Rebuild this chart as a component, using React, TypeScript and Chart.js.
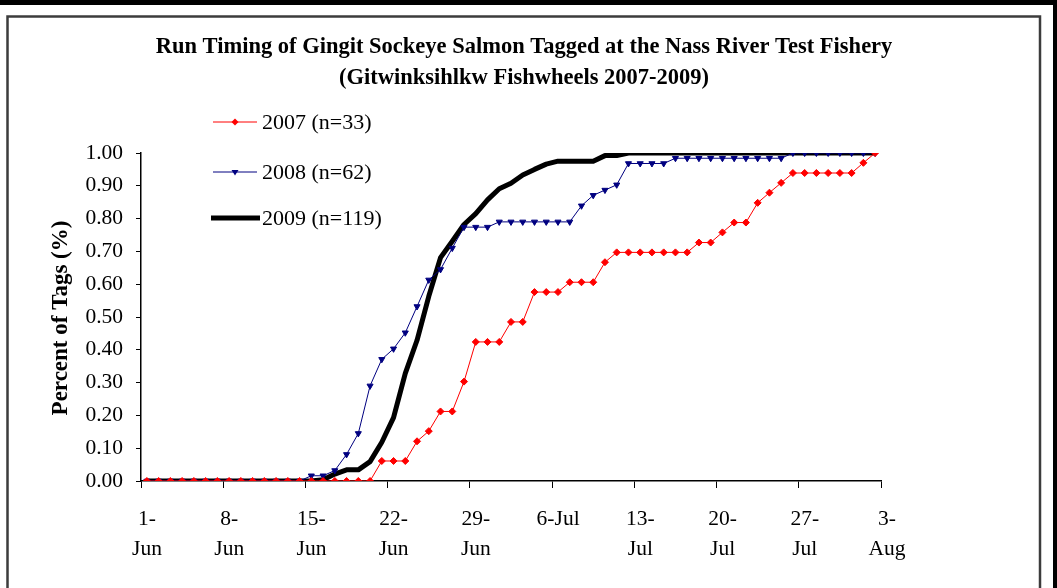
import React, { useEffect, useRef } from 'react';
import { Chart, registerables } from 'chart.js';

Chart.register(...registerables);

const titleLines = [
  'Run Timing of Gingit Sockeye Salmon Tagged at the Nass River Test Fishery',
  '(Gitwinksihlkw Fishwheels 2007-2009)',
];
const yAxisTitle = 'Percent of Tags (%)';
const tickLabels: string[][] = [
  ['1-', 'Jun'], ['8-', 'Jun'], ['15-', 'Jun'], ['22-', 'Jun'], ['29-', 'Jun'],
  ['6-Jul'], ['13-', 'Jul'], ['20-', 'Jul'], ['27-', 'Jul'], ['3-', 'Aug'],
];
const yTickValues = [0, 0.1, 0.2, 0.3, 0.4, 0.5, 0.6, 0.7, 0.8, 0.9, 1.0];
const seriesNames = ['2007 (n=33)', '2008 (n=62)', '2009 (n=119)'];

// daily cumulative proportions, 1-Jun .. 2-Aug
const y2007 = [
  0, 0, 0, 0, 0, 0, 0, 0, 0, 0,
  0, 0, 0, 0, 0, 0, 0, 0, 0, 0,
  0.061, 0.061, 0.061, 0.121, 0.152, 0.212, 0.212, 0.303, 0.424, 0.424,
  0.424, 0.485, 0.485, 0.576, 0.576, 0.576, 0.606, 0.606, 0.606, 0.667,
  0.697, 0.697, 0.697, 0.697, 0.697, 0.697, 0.697, 0.727, 0.727, 0.758,
  0.788, 0.788, 0.848, 0.879, 0.909, 0.939, 0.939, 0.939, 0.939, 0.939,
  0.939, 0.970, 1.0,
];
const y2008 = [
  0, 0, 0, 0, 0, 0, 0, 0, 0, 0,
  0, 0, 0, 0, 0.016, 0.016, 0.032, 0.081, 0.145, 0.290,
  0.371, 0.403, 0.452, 0.532, 0.613, 0.645, 0.710, 0.774, 0.774, 0.774,
  0.790, 0.790, 0.790, 0.790, 0.790, 0.790, 0.790, 0.839, 0.871, 0.887,
  0.903, 0.968, 0.968, 0.968, 0.968, 0.984, 0.984, 0.984, 0.984, 0.984,
  0.984, 0.984, 0.984, 0.984, 0.984, 1.0, 1.0, 1.0, 1.0, 1.0,
  1.0, 1.0, 1.0,
];
const y2009 = [
  0, 0, 0, 0, 0, 0, 0, 0, 0, 0,
  0, 0, 0, 0, 0, 0.004, 0.021, 0.034, 0.034, 0.059,
  0.118, 0.193, 0.328, 0.429, 0.563, 0.681, 0.731, 0.782, 0.815, 0.857,
  0.891, 0.908, 0.933, 0.950, 0.966, 0.975, 0.975, 0.975, 0.975, 0.992,
  0.992, 1.0, 1.0, 1.0, 1.0, 1.0, 1.0, 1.0, 1.0, 1.0,
  1.0, 1.0, 1.0, 1.0, 1.0, 1.0, 1.0, 1.0, 1.0, 1.0,
  1.0, 1.0, 1.0,
];

const SERIF = '"Liberation Serif", "Times New Roman", serif';
const RED = '#FF0000';
const NAVY = '#000080';

const toPoints = (arr: number[]) => arr.map((v, i) => ({ x: i + 0.5, y: v }));

const framePlugin = {
  id: 'frame',
  beforeDraw(chart: any) {
    const { ctx, width, height } = chart;
    ctx.save();
    ctx.fillStyle = '#ffffff';
    ctx.fillRect(0, 0, width, height);
    ctx.fillStyle = '#000000';
    ctx.fillRect(0, 0, width, 5);
    ctx.fillRect(width - 4, 0, 4, height);
    ctx.strokeStyle = '#3c3c3c';
    ctx.lineWidth = 2.5;
    ctx.strokeRect(7.5, 16.5, 1032.5, height + 20);
    ctx.restore();
  },
  afterDraw(chart: any) {
    const { ctx } = chart;
    ctx.save();
    ctx.fillStyle = '#000';
    ctx.textAlign = 'center';
    ctx.textBaseline = 'middle';
    ctx.font = `bold 22.5px ${SERIF}`;
    ctx.fillText(titleLines[0], 524, 47);
    ctx.fillText(titleLines[1], 524, 78);

    // y axis title
    ctx.save();
    ctx.translate(61, 318);
    ctx.rotate(-Math.PI / 2);
    ctx.font = `bold 23px ${SERIF}`;
    ctx.fillText(yAxisTitle, 0, 0);
    ctx.restore();

    // legend
    const lx0 = 213;
    const lx1 = 257;
    const rows = [122, 172, 218];
    ctx.textAlign = 'left';
    ctx.font = `22px ${SERIF}`;
    // 2007
    ctx.strokeStyle = RED;
    ctx.lineWidth = 1;
    ctx.beginPath();
    ctx.moveTo(lx0, rows[0]);
    ctx.lineTo(lx1, rows[0]);
    ctx.stroke();
    ctx.fillStyle = RED;
    ctx.beginPath();
    ctx.moveTo(235, rows[0] - 3.5);
    ctx.lineTo(238.5, rows[0]);
    ctx.lineTo(235, rows[0] + 3.5);
    ctx.lineTo(231.5, rows[0]);
    ctx.closePath();
    ctx.fill();
    // 2008
    ctx.strokeStyle = NAVY;
    ctx.beginPath();
    ctx.moveTo(lx0, rows[1]);
    ctx.lineTo(lx1, rows[1]);
    ctx.stroke();
    ctx.fillStyle = NAVY;
    ctx.beginPath();
    ctx.moveTo(231.5, rows[1] - 2);
    ctx.lineTo(238.5, rows[1] - 2);
    ctx.lineTo(235, rows[1] + 3.5);
    ctx.closePath();
    ctx.fill();
    // 2009
    ctx.strokeStyle = '#000';
    ctx.lineWidth = 5;
    ctx.beginPath();
    ctx.moveTo(211, rows[2]);
    ctx.lineTo(260, rows[2]);
    ctx.stroke();

    ctx.fillStyle = '#000';
    seriesNames.forEach((n, k) => ctx.fillText(n, 262, rows[k] + 1));
    ctx.restore();
  },
};

export default function App() {
  const ref = useRef<HTMLCanvasElement | null>(null);

  useEffect(() => {
    if (!ref.current) return;
    const chart = new Chart(ref.current, {
      type: 'line',
      data: {
        datasets: [
          {
            label: seriesNames[0],
            data: toPoints(y2007),
            borderColor: RED,
            backgroundColor: RED,
            borderWidth: 1,
            pointStyle: 'rectRot',
            pointRadius: 3.5,
            pointBorderWidth: 1,
            pointBackgroundColor: RED,
            pointBorderColor: RED,
            order: 1,
          },
          {
            label: seriesNames[1],
            data: toPoints(y2008),
            borderColor: NAVY,
            backgroundColor: NAVY,
            borderWidth: 1,
            pointStyle: 'triangle',
            pointRotation: 180,
            pointRadius: 3.5,
            pointBorderWidth: 1,
            pointBackgroundColor: NAVY,
            pointBorderColor: NAVY,
            order: 2,
          },
          {
            label: seriesNames[2],
            data: toPoints(y2009),
            borderColor: '#000',
            backgroundColor: '#000',
            borderWidth: 5,
            pointRadius: 0,
            borderJoinStyle: 'round',
            order: 3,
          },
        ],
      },
      options: {
        responsive: false,
        animation: false,
        devicePixelRatio: 1,
        layout: { padding: { left: 0, top: 153, right: 176, bottom: 7 } },
        plugins: {
          legend: { display: false },
          tooltip: { enabled: false },
          title: { display: false },
        },
        scales: {
          x: {
            type: 'linear',
            min: 0,
            max: 63,
            afterBuildTicks: (s: any) => {
              s.ticks = tickLabels.map((_, k) => ({ value: k * 7 }));
            },
            afterFit: (s: any) => {
              s.height = 100;
            },
            ticks: {
              autoSkip: false,
              maxRotation: 0,
              minRotation: 0,
              labelOffset: 6,
              padding: 16,
              color: '#000',
              font: { family: SERIF, size: 21.5, lineHeight: '30px' },
              callback: (_v: any, i: number) => tickLabels[i],
            },
            grid: {
              drawOnChartArea: false,
              drawTicks: true,
              tickLength: 7,
              color: '#000',
              lineWidth: 1,
            },
            border: { color: '#000', width: 1.5 },
          },
          y: {
            min: 0,
            max: 1,
            afterBuildTicks: (s: any) => {
              s.ticks = yTickValues.map((v) => ({ value: v }));
            },
            afterFit: (s: any) => {
              s.width = 141;
            },
            ticks: {
              padding: 13,
              color: '#000',
              font: { family: SERIF, size: 21.5 },
              callback: (v: any) => Number(v).toFixed(2),
            },
            grid: {
              drawOnChartArea: false,
              drawTicks: true,
              tickLength: 5,
              color: '#000',
              lineWidth: 1,
            },
            border: { color: '#000', width: 1.5 },
          },
        },
      },
      plugins: [framePlugin],
    });
    return () => chart.destroy();
  }, []);

  return (
    <div style={{ position: 'absolute', left: 0, top: 0, width: 1057, height: 588 }}>
      <canvas ref={ref} width={1057} height={588} style={{ display: 'block', width: 1057, height: 588 }} />
    </div>
  );
}
